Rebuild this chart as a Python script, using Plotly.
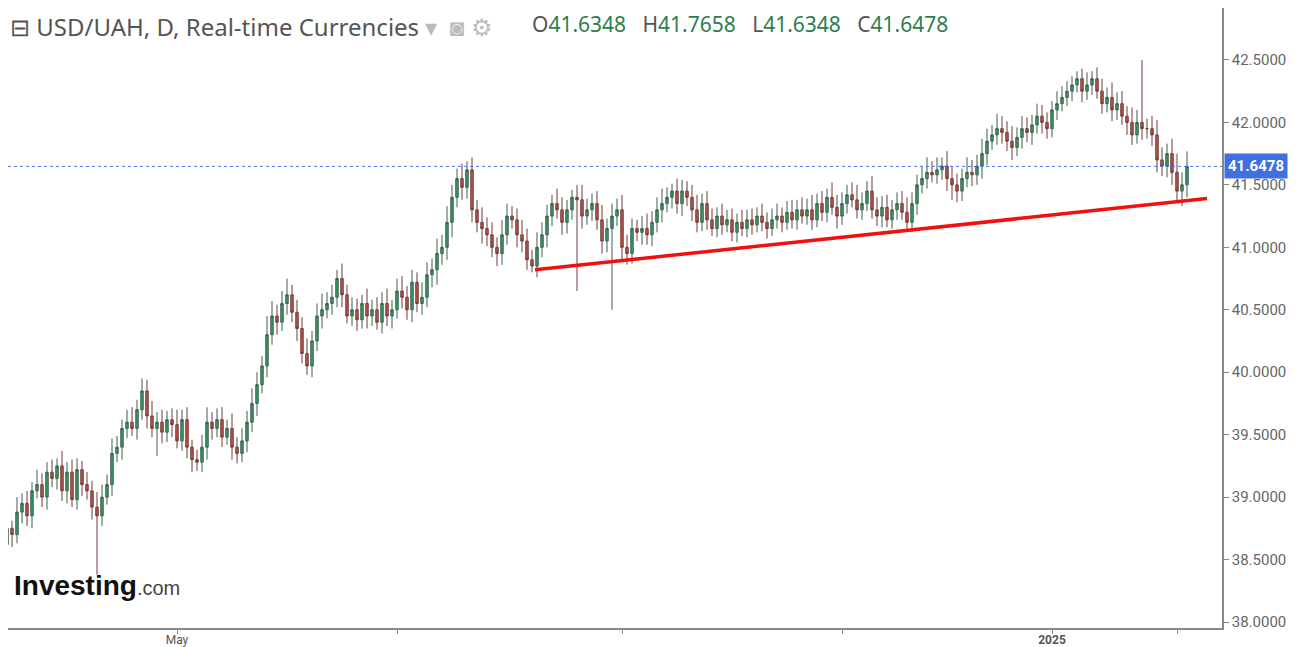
import plotly.graph_objects as go

# daily closes, USD/UAH
closes = [
    38.62, 38.75, 38.70, 38.88, 38.95, 38.85, 39.05, 39.10, 39.00, 39.20,
    39.15, 39.25, 39.05, 39.20, 38.98, 39.22, 39.10, 39.05, 38.92, 38.85,
    39.00, 39.10, 39.35, 39.40, 39.55, 39.60, 39.55, 39.70, 39.85, 39.65,
    39.55, 39.60, 39.52, 39.62, 39.58, 39.45, 39.62, 39.40, 39.30, 39.28,
    39.40, 39.60, 39.55, 39.62, 39.48, 39.55, 39.40, 39.35, 39.45, 39.60,
    39.75, 39.90, 40.05, 40.30, 40.45, 40.40, 40.55, 40.62, 40.48, 40.35,
    40.15, 40.05, 40.25, 40.45, 40.50, 40.55, 40.60, 40.75, 40.62, 40.45,
    40.50, 40.42, 40.55, 40.45, 40.50, 40.40, 40.55, 40.45, 40.50, 40.65,
    40.60, 40.50, 40.72, 40.55, 40.60, 40.78, 40.82, 40.95, 41.00, 41.20,
    41.40, 41.55, 41.48, 41.62, 41.30, 41.20, 41.15, 41.10, 41.00, 40.95,
    41.10, 41.25, 41.22, 41.10, 41.05, 40.90, 40.85, 41.00, 41.10, 41.25,
    41.35, 41.30, 41.20, 41.30, 41.40, 41.38, 41.25, 41.30, 41.35, 41.22,
    41.05, 41.15, 41.25, 41.30, 41.00, 40.95, 41.15, 41.12, 41.15, 41.10,
    41.20, 41.30, 41.35, 41.40, 41.45, 41.35, 41.45, 41.40, 41.30, 41.20,
    41.35, 41.22, 41.15, 41.25, 41.18, 41.22, 41.12, 41.20, 41.15, 41.22,
    41.18, 41.25, 41.20, 41.15, 41.22, 41.25, 41.20, 41.28, 41.22, 41.30,
    41.25, 41.30, 41.22, 41.35, 41.28, 41.40, 41.32, 41.25, 41.35, 41.42,
    41.38, 41.30, 41.35, 41.45, 41.30, 41.25, 41.32, 41.22, 41.30, 41.35,
    41.28, 41.20, 41.35, 41.50, 41.55, 41.60, 41.58, 41.62, 41.65, 41.55,
    41.50, 41.45, 41.55, 41.60, 41.58, 41.65, 41.75, 41.85, 41.90, 41.95,
    41.92, 41.85, 41.80, 41.88, 41.95, 41.92, 41.98, 42.05, 42.00, 41.95,
    42.10, 42.15, 42.20, 42.25, 42.30, 42.35, 42.25, 42.30, 42.35, 42.25,
    42.15, 42.20, 42.10, 42.15, 42.05, 42.00, 41.90, 42.00, 41.95, 41.95,
    41.90, 41.70, 41.65, 41.75, 41.60, 41.45, 41.50, 41.6478,
]
first_open = 38.55
opens = [first_open] + closes[:-1]

upper_wicks = [
    0.08, 0.10, 0.06, 0.12, 0.08, 0.10, 0.07, 0.12, 0.09, 0.08,
    0.10, 0.06, 0.12, 0.08, 0.10, 0.09, 0.07, 0.10, 0.08, 0.12,
    0.10, 0.08, 0.12, 0.09, 0.07, 0.10, 0.12, 0.08, 0.10, 0.09,
    0.12, 0.08, 0.10, 0.07, 0.09, 0.12, 0.08, 0.10, 0.06, 0.08,
    0.10, 0.12, 0.08, 0.09, 0.10, 0.07, 0.12, 0.08, 0.10, 0.09,
    0.12, 0.10, 0.08, 0.15, 0.12, 0.09, 0.10, 0.13, 0.08, 0.10,
    0.09, 0.12, 0.08, 0.10, 0.13, 0.09, 0.10, 0.07, 0.12, 0.08,
    0.10, 0.09, 0.07, 0.12, 0.08, 0.10, 0.09, 0.12, 0.08, 0.10,
    0.12, 0.09, 0.10, 0.08, 0.12, 0.10, 0.09, 0.12, 0.10, 0.13,
    0.10, 0.08, 0.12, 0.07, 0.10, 0.08, 0.12, 0.09, 0.10, 0.08,
    0.12, 0.10, 0.08, 0.09, 0.12, 0.10, 0.08, 0.12, 0.10, 0.09,
    0.07, 0.12, 0.10, 0.08, 0.06, 0.10, 0.12, 0.09, 0.08, 0.10,
    0.12, 0.08, 0.10, 0.09, 0.12, 0.10, 0.08, 0.07, 0.10, 0.12,
    0.09, 0.10, 0.12, 0.08, 0.06, 0.10, 0.09, 0.08, 0.10, 0.12,
    0.08, 0.10, 0.09, 0.07, 0.10, 0.08, 0.09, 0.07, 0.10, 0.08,
    0.09, 0.07, 0.10, 0.08, 0.09, 0.10, 0.07, 0.09, 0.10, 0.08,
    0.10, 0.09, 0.12, 0.08, 0.10, 0.07, 0.12, 0.10, 0.09, 0.08,
    0.10, 0.12, 0.09, 0.08, 0.12, 0.10, 0.09, 0.10, 0.08, 0.09,
    0.10, 0.12, 0.09, 0.08, 0.10, 0.12, 0.09, 0.10, 0.07, 0.12,
    0.10, 0.09, 0.08, 0.12, 0.10, 0.09, 0.12, 0.10, 0.08, 0.12,
    0.10, 0.09, 0.12, 0.08, 0.10, 0.09, 0.08, 0.10, 0.09, 0.08,
    0.07, 0.10, 0.09, 0.08, 0.07, 0.06, 0.08, 0.10, 0.06, 0.09,
    0.10, 0.08, 0.12, 0.09, 0.10, 0.08, 0.12, 0.10, 0.50, 0.08,
    0.10, 0.12, 0.10, 0.08, 0.12, 0.15, 0.10, 0.12,
]
lower_wicks = [
    0.08, 0.06, 0.10, 0.07, 0.09, 0.08, 0.10, 0.06, 0.08, 0.10,
    0.07, 0.09, 0.08, 0.10, 0.06, 0.08, 0.09, 0.07, 0.10, 0.47,
    0.08, 0.06, 0.09, 0.07, 0.10, 0.08, 0.06, 0.09, 0.08, 0.10,
    0.07, 0.22, 0.09, 0.08, 0.10, 0.06, 0.08, 0.09, 0.10, 0.07,
    0.08, 0.10, 0.09, 0.07, 0.08, 0.06, 0.10, 0.08, 0.07, 0.09,
    0.08, 0.10, 0.07, 0.09, 0.08, 0.10, 0.07, 0.09, 0.08, 0.10,
    0.08, 0.07, 0.09, 0.08, 0.10, 0.07, 0.09, 0.08, 0.10, 0.06,
    0.08, 0.09, 0.07, 0.10, 0.08, 0.06, 0.09, 0.08, 0.10, 0.07,
    0.09, 0.08, 0.10, 0.07, 0.09, 0.08, 0.10, 0.12, 0.09, 0.10,
    0.12, 0.08, 0.10, 0.09, 0.10, 0.08, 0.12, 0.09, 0.08, 0.10,
    0.09, 0.08, 0.07, 0.10, 0.09, 0.08, 0.05, 0.09, 0.08, 0.10,
    0.08, 0.07, 0.10, 0.09, 0.08, 0.73, 0.10, 0.07, 0.09, 0.08,
    0.10, 0.09, 0.65, 0.08, 0.10, 0.09, 0.08, 0.07, 0.10, 0.08,
    0.09, 0.08, 0.10, 0.07, 0.09, 0.08, 0.10, 0.07, 0.09, 0.08,
    0.07, 0.08, 0.06, 0.07, 0.08, 0.06, 0.07, 0.08, 0.06, 0.07,
    0.08, 0.06, 0.07, 0.08, 0.06, 0.07, 0.08, 0.06, 0.07, 0.08,
    0.06, 0.07, 0.08, 0.06, 0.07, 0.08, 0.06, 0.10, 0.07, 0.08,
    0.06, 0.07, 0.08, 0.06, 0.07, 0.08, 0.09, 0.06, 0.07, 0.08,
    0.06, 0.07, 0.08, 0.09, 0.07, 0.08, 0.06, 0.07, 0.08, 0.10,
    0.12, 0.09, 0.08, 0.07, 0.09, 0.08, 0.10, 0.09, 0.07, 0.08,
    0.09, 0.08, 0.10, 0.07, 0.09, 0.08, 0.10, 0.07, 0.09, 0.08,
    0.07, 0.08, 0.06, 0.07, 0.08, 0.06, 0.09, 0.07, 0.08, 0.06,
    0.08, 0.07, 0.09, 0.08, 0.07, 0.10, 0.08, 0.07, 0.09, 0.08,
    0.09, 0.10, 0.08, 0.09, 0.10, 0.08, 0.12, 0.10,
]
highs = [max(o, c) + w for o, c, w in zip(opens, closes, upper_wicks)]
lows = [min(o, c) - w for o, c, w in zip(opens, closes, lower_wicks)]
days = list(range(len(closes)))

# hand-drawn support line
trend_x = [106.6, 241.0]
trend_y = [40.82, 41.39]

last_price = 41.6478
tick_pos = [35, 79, 124, 168, 210, 235]
tick_text = ['May', '', '', '', '<b>2025</b>', '']
price_ticks = [38.0, 38.5, 39.0, 39.5, 40.0, 40.5, 41.0, 41.5, 42.0, 42.5, 43.0]

fig = go.Figure()
fig.add_trace(go.Candlestick(
    x=days, open=opens, high=highs, low=lows, close=closes,
    increasing=dict(fillcolor='#2e9e62', line=dict(color='#3f5e4e', width=1)),
    decreasing=dict(fillcolor='#c0504a', line=dict(color='#6e3d38', width=1)),
    whiskerwidth=0, showlegend=False, hoverinfo='skip'))
fig.add_trace(go.Scatter(x=trend_x, y=trend_y, mode='lines',
                         line=dict(color='#f01010', width=3.5),
                         showlegend=False, hoverinfo='skip'))
fig.add_hline(y=last_price, line=dict(color='#4a6fe0', width=1, dash='dot'))

# the page has an 8px body margin, so the figure is sized to fit inside it
fig.update_layout(
    width=1291, height=639,
    margin=dict(l=0, r=77, t=0, b=19, pad=0, autoexpand=False),
    paper_bgcolor='white', plot_bgcolor='white',
    font=dict(family='Roboto, Arial', color='#555'),
    xaxis=dict(range=[1.2, 244], rangeslider=dict(visible=False),
               showgrid=False, zeroline=False, showline=True, automargin=False,
               linecolor='#888', linewidth=1.5,
               tickvals=tick_pos, ticktext=tick_text, ticks='outside',
               ticklen=4, tickcolor='#888', ticklabelstandoff=-4,
               tickfont=dict(size=12, color='#555')),
    yaxis=dict(range=[37.952, 42.916], side='right', showgrid=False, automargin=False,
               zeroline=False, showline=True, linecolor='#888', linewidth=1.5,
               tickvals=price_ticks, tickformat='.4f', ticks='outside',
               ticklen=5, tickcolor='#888', tickfont=dict(size=15, color='#666')),
)

fig.add_annotation(xref='paper', yref='y', x=1.0, y=last_price, xanchor='left',
                   text='<b>%.4f</b>' % last_price, showarrow=False,
                   bgcolor='#3f6fe0', font=dict(color='white', size=15),
                   borderpad=3, xshift=2)
fig.add_annotation(xref='paper', yref='paper', x=0.0, y=1.0,
                   xanchor='left', yanchor='top', showarrow=False,
                   text='⊟ USD/UAH, D, Real-time Currencies <span style="color:#bbb">▾  ◙ ⚙</span>',
                   font=dict(size=24, color='#555', family='Noto Sans'))
fig.add_annotation(xref='paper', yref='paper', x=0.43, y=1.0,
                   xanchor='left', yanchor='top', showarrow=False,
                   text=('O<span style="color:#2f7d4f">41.6348</span>   '
                         'H<span style="color:#2f7d4f">41.7658</span>   '
                         'L<span style="color:#2f7d4f">41.6348</span>   '
                         'C<span style="color:#2f7d4f">41.6478</span>'),
                   font=dict(size=21, color='#555', family='Noto Sans'))
fig.add_annotation(xref='paper', yref='paper', x=0.003, y=0.04,
                   xanchor='left', yanchor='bottom', showarrow=False,
                   text='<b>Investing</b><span style="font-size:20px;color:#444">.com</span>',
                   font=dict(size=28, color='#111', family='Liberation Sans Narrow, Arial'))

fig.write_html("out.html")
